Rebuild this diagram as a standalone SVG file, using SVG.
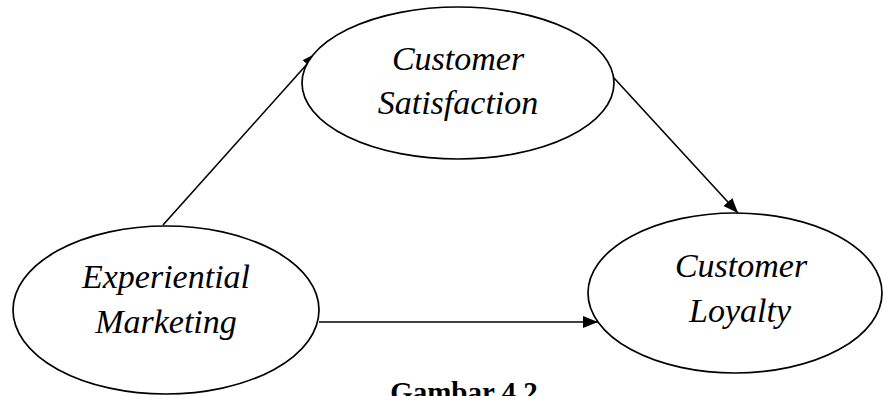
<svg xmlns="http://www.w3.org/2000/svg" width="883" height="396" viewBox="0 0 883 396">
<style>
.node{fill:#fff;stroke:#000;stroke-width:1.7}
.lbl{font-family:"Liberation Serif","Times New Roman",serif;font-style:italic;font-size:34px;text-anchor:middle;fill:#000}
.edge{stroke:#000;stroke-width:1.6;fill:none}
.cap{font-family:"Liberation Serif","Times New Roman",serif;font-weight:bold;font-size:29px;text-anchor:middle;fill:#000}
</style>
<defs>
<marker id="ah" markerWidth="15" markerHeight="12" refX="15" refY="6" orient="auto" markerUnits="userSpaceOnUse">
<path d="M0,0 L15,6 L0,12 Z" fill="#000"/>
</marker>
</defs>
<rect width="883" height="396" fill="#fff"/>
<g id="connectors">
<line class="edge" x1="163" y1="225" x2="317" y2="53" marker-end="url(#ah)"/>
<line class="edge" x1="614" y1="78" x2="738" y2="213" marker-end="url(#ah)"/>
<line class="edge" x1="319" y1="322" x2="598" y2="322" marker-end="url(#ah)"/>
</g>
<g id="satisfaction">
<ellipse class="node" cx="458" cy="83" rx="156" ry="76"/>
<text class="lbl" x="458" y="70">Customer</text>
<text class="lbl" x="458" y="114">Satisfaction</text>
</g>
<g id="loyalty">
<ellipse class="node" cx="735" cy="293" rx="147" ry="80"/>
<text class="lbl" x="741" y="277">Customer</text>
<text class="lbl" x="740" y="322">Loyalty</text>
</g>
<g id="experiential">
<ellipse class="node" cx="166" cy="310" rx="153" ry="84"/>
<text class="lbl" x="166" y="288">Experiential</text>
<text class="lbl" x="166" y="333">Marketing</text>
</g>
<text class="cap" x="464" y="402">Gambar 4.2</text>
</svg>
